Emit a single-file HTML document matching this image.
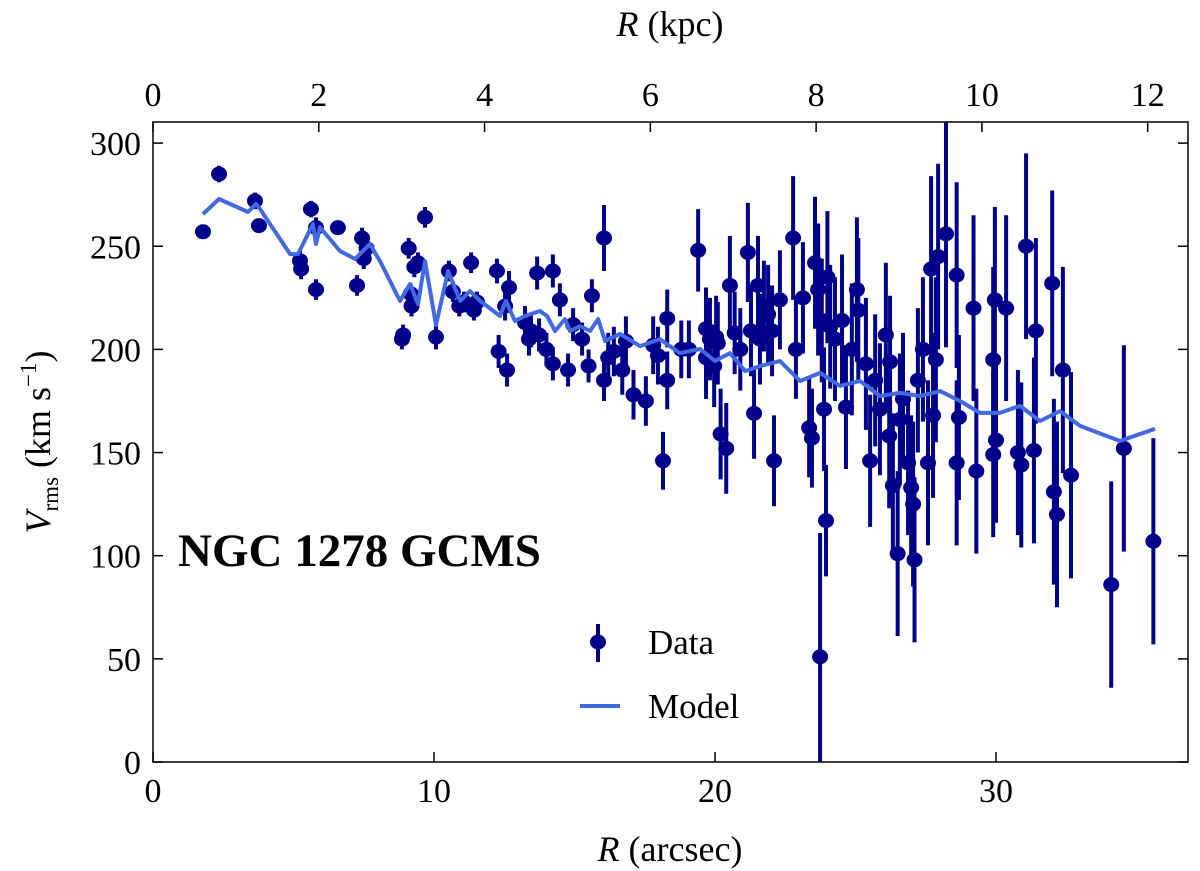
<!DOCTYPE html>
<html><head><meta charset="utf-8"><style>
html,body{margin:0;padding:0;background:#fff;}
svg{display:block;font-family:"Liberation Serif",serif;}
</style></head><body>
<svg id="chart" width="1200" height="871" viewBox="0 0 1200 871" xmlns="http://www.w3.org/2000/svg">
<g id="marks"></g>
<rect x="153" y="122" width="1035" height="640" fill="none" stroke="#000" stroke-width="1.5"/>
<g id="axes"></g>
<text x="178" y="566" font-size="47" font-weight="bold">NGC 1278 GCMS</text>
<text x="670" y="861" font-size="36" text-anchor="middle"><tspan font-style="italic">R</tspan> (arcsec)</text>
<text x="670" y="36" font-size="36" text-anchor="middle"><tspan font-style="italic">R</tspan> (kpc)</text>
<text transform="translate(50,442) rotate(-90)" font-size="36" text-anchor="middle"><tspan font-style="italic">V</tspan><tspan font-size="23" dy="8">rms</tspan><tspan dy="-8"> (km s</tspan><tspan font-size="23" dy="-14">−1</tspan><tspan dy="14">)</tspan></text>
<g>
<line x1="598" y1="624" x2="598" y2="662" stroke="#00008b" stroke-width="4"/>
<ellipse cx="598" cy="642" rx="8" ry="7.5" fill="#00008b"/>
<text x="648" y="654" font-size="35">Data</text>
<line x1="580" y1="706" x2="620" y2="706" stroke="#4169e1" stroke-width="4"/>
<text x="648" y="718" font-size="35">Model</text>
</g>
</svg>
<script>
const dataR=[1.78,2.35,3.63,3.77,5.23,5.27,5.62,5.8,5.8,6.58,7.26,7.44,7.6,7.5,8.86,8.9,9.1,9.2,9.17,9.43,9.3,9.68,10.07,10.53,10.67,10.9,11.07,11.32,11.42,11.53,12.24,12.3,12.53,12.6,12.67,13.24,13.38,13.45,13.67,13.74,14.0,14.23,14.23,14.48,14.77,14.95,15.27,15.62,15.5,16.05,16.05,16.2,16.4,16.7,16.83,17.1,17.54,17.8,17.97,18.15,18.3,18.3,18.8,19.07,19.4,19.68,19.68,19.82,19.97,20.04,20.1,20.2,20.4,20.53,20.7,20.9,21.17,21.28,21.39,21.53,21.6,21.74,21.89,22.03,22.1,22.31,22.78,22.88,23.13,23.35,23.45,23.56,23.67,23.74,23.8,23.88,23.95,24.0,24.1,24.27,24.52,24.66,25.05,25.1,24.87,25.37,25.52,25.7,25.87,26.08,26.2,26.23,26.33,26.5,26.58,26.69,26.87,26.98,27.05,27.1,27.22,27.4,27.58,27.69,27.76,27.86,27.94,28.22,28.6,28.6,28.68,29.2,29.3,29.9,29.9,30.0,29.96,30.36,30.78,30.9,31.07,31.35,31.42,32.0,32.06,32.17,32.38,32.67,34.1,34.55,35.6];
const dataV=[257,285,272,260,243,239,268,259,229,259,231,254,249,244,205,207,249,221,227,242,240,264,206,238,228,221,223,242,219,223,238,199,221,190,230,213,205,209,237,207,200,238,193,224,190,212,205,226,192,254,185,196,199,190,204,178,175,202,197,146,215,185,200,200,248,210,196,205,192,206,203,159,152,231,208,200,247,209,169,231,205,221,217,209,146,224,254,200,225,162,157,242,229,51,214,171,117,235,211,205,214,172,229,219,200,193,146,185,171,207,158,194,134,101,166,176,145,133,125,98,185,200,145,239,168,195,245,256,236,145,167,220,141,195,149,156,224,220,150,144,250,151,209,232,131,120,190,139,86,152,107];
const dataErr=[3,4,4,3,5,5,4,5,5,3,5,5,5,5,5,5,5,5,5,5,5,5,6,5,5,5,5,5,5,5,6,8,7,8,8,8,8,8,8,8,8,8,8,8,8,8,8,8,8,16,10,12,12,12,12,12,12,14,14,14,14,14,14,14,20,20,20,20,20,20,20,22,22,24,20,20,24,22,22,24,22,22,24,22,22,24,30,24,27,24,24,32,32,60,30,30,27,32,30,30,32,30,35,35,32,32,32,32,32,35,35,32,35,40,32,32,35,35,40,40,35,35,40,45,40,40,45,55,45,40,40,45,40,45,40,40,45,45,40,40,45,45,45,45,45,45,50,50,50,50,50,52];
const modelR=[1.78,2.35,3.38,3.67,3.81,4.88,5.16,5.69,5.8,5.94,6.65,7.19,7.72,8.08,8.79,9.15,9.43,9.68,10.07,10.5,10.93,11.28,11.64,12.35,12.56,12.88,13.24,13.77,14.02,14.31,14.66,14.84,15.2,15.55,15.84,16.09,16.62,17.33,18.04,18.75,19.47,20,20.53,21.07,21.6,22.31,23.03,23.74,24.45,25.16,25.87,26.58,27.3,28.01,28.72,29.43,30.14,30.85,31.57,32.28,32.99,34.41,35.66];
const modelV=[265.6,272.9,266.6,270.5,268,246.2,246.2,260.8,251.1,259.3,247.7,243.8,251.1,242.8,223.5,231.7,222,242.8,211.8,238,223.5,228.3,223.5,216.2,223.5,213.8,216.2,218.6,216.2,208.9,214.7,208.9,211.3,208.9,214.7,204,207.5,201.6,205,198.2,200.2,194.4,198.2,189.5,191.9,194.4,184.7,188.6,182.3,184.7,177.4,178.9,177.4,179.8,175,169.2,169.2,172.6,165.3,170.1,162.9,155.6,161.5];
const xTicks=[0,10,20,30];
const yTicks=[0,50,100,150,200,250,300];
const kpcTicks=[0,2,4,6,8,10,12];
const kpcPerArcsec=0.339;

const NS="http://www.w3.org/2000/svg";
const X0=153,X1=1188,Y0=122,Y1=762;
function sx(r){return X0+r*28.1;}
function sy(v){return Y1-v*2.063;}
function mk(tag,attrs,parent){const e=document.createElementNS(NS,tag);for(const k in attrs)e.setAttribute(k,attrs[k]);parent.appendChild(e);return e;}
const marks=document.getElementById('marks');
const axes=document.getElementById('axes');
const clip=mk('clipPath',{id:'pc'},marks);mk('rect',{x:X0,y:Y0,width:X1-X0,height:Y1-Y0},clip);
const dg=mk('g',{'clip-path':'url(#pc)'},marks);
for(let i=0;i<dataR.length;i++){
  const x=sx(dataR[i]);
  const bar=mk('line',{x1:x,x2:x,y1:sy(dataV[i]-dataErr[i]),y2:sy(dataV[i]+dataErr[i]),stroke:'#00008b','stroke-width':4},dg);
  
  
}
for(let i=0;i<dataR.length;i++){
  const p=mk('ellipse',{cx:sx(dataR[i]),cy:sy(dataV[i]),rx:8,ry:7.5,fill:'#00008b'},dg);
  
  
}
const pts=modelR.map((r,i)=>sx(r).toFixed(1)+','+sy(modelV[i]).toFixed(1)).join(' ');
const ml=mk('polyline',{points:pts,fill:'none',stroke:'#4169e1','stroke-width':4,'stroke-linejoin':'round'},dg);


xTicks.forEach(t=>{
  const x=sx(t);
  const tk=mk('line',{x1:x,x2:x,y1:Y1,y2:Y1-10,stroke:'#000','stroke-width':1.5},axes);
  
  
  const lb=mk('text',{x:x,y:Y1+40,'font-size':34,'text-anchor':'middle'},axes);
  lb.textContent=t;
  
  
});
yTicks.forEach(t=>{
  const y=sy(t);
  const tk=mk('line',{x1:X0,x2:X0+10,y1:y,y2:y,stroke:'#000','stroke-width':1.5},axes);
  
  
  const tk2=mk('line',{x1:X1,x2:X1-10,y1:y,y2:y,stroke:'#000','stroke-width':1.5},axes);
  
  
  const lb=mk('text',{x:X0-12,y:y+12,'font-size':34,'text-anchor':'end'},axes);
  lb.textContent=t;
  
  
});
kpcTicks.forEach(t=>{
  const x=sx(t/kpcPerArcsec);
  const tk=mk('line',{x1:x,x2:x,y1:Y0,y2:Y0+10,stroke:'#000','stroke-width':1.5},axes);
  
  
  const lb=mk('text',{x:x,y:Y0-16,'font-size':34,'text-anchor':'middle'},axes);
  lb.textContent=t;
  
  
});
</script>
</body></html>
